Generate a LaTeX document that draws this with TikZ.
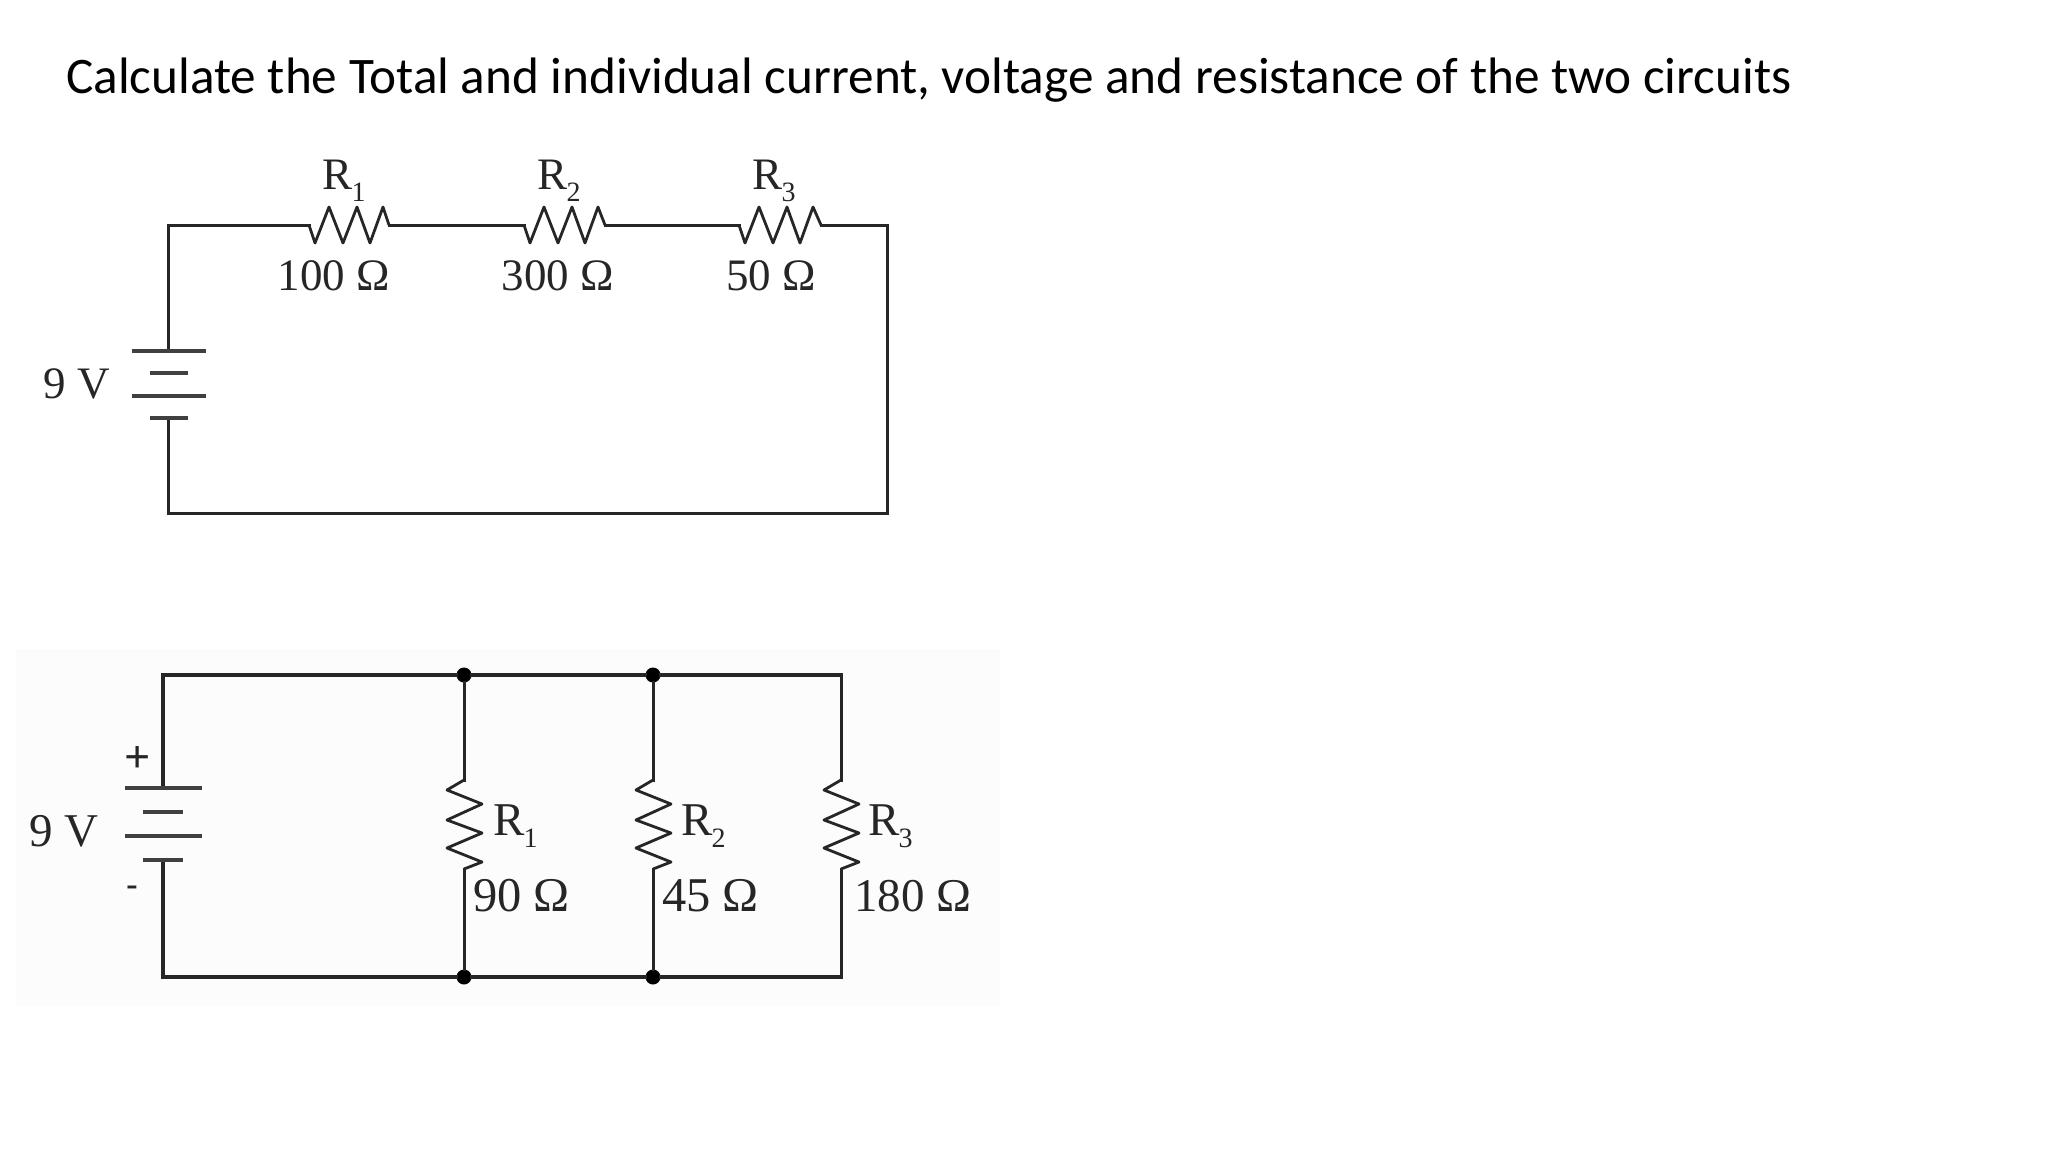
\documentclass[tikz,border=0pt]{standalone}
\usepackage{fontspec}
\setmainfont{Liberation Serif}
\newfontfamily\titlefont{Carlito}
\newcommand{\rsub}[1]{R\kern-1pt\raisebox{-12pt}{\fontsize{28}{28}\selectfont #1}}
\tikzset{
  wire/.style={line width=3pt,black!85,line join=miter,line cap=rect},
  thin wire/.style={line width=2.8pt,black!85,line join=round},
  heavy/.style={line width=4pt,black!85,line cap=rect},
  plate/.style={line width=3.8pt,black!75},
  lbl/.style={inner sep=0pt,anchor=base,font=\fontsize{45}{45}\selectfont,text=black!85},
  lbll/.style={lbl,font=\fontsize{47}{47}\selectfont},
  lblw/.style={lbll,anchor=base west},
  dot/.style={circle,fill=black,inner sep=0pt,minimum size=15pt},
}
\begin{document}
\begin{tikzpicture}[x=1pt,y=-1pt]
\useasboundingbox[fill=white] (0,0) rectangle (2048,1152);
\fill[black!1] (16,649) rectangle (1000,1006);

\node[inner sep=0pt,anchor=base west,font=\titlefont\fontsize{51.25}{51.25}\selectfont,text=black] (title) at (66,93.5)
  {Calculate the Total and individual current, voltage and resistance of the two circuits};

% --- series circuit
\coordinate (a1) at (168,225); \coordinate (a2) at (887,225);
\coordinate (a3) at (887,513); \coordinate (a4) at (168,513);
\coordinate (ap1) at (168,351); \coordinate (ap4) at (168,418);
\coordinate (s1a) at (309,225); \coordinate (s1b) at (389,225);
\coordinate (s2a) at (524,225); \coordinate (s2b) at (605,225);
\coordinate (s3a) at (739,225); \coordinate (s3b) at (821,225);

\draw[wire] (ap1) -- (a1) -- (s1a);
\draw[wire] (s1b) -- (s2a);
\draw[wire] (s2b) -- (s3a);
\draw[wire] (s3b) -- (a2) -- (a3) -- (a4) -- (ap4);
\foreach \n in {1,2,3}{
  \draw[thin wire] (s\n a) -- ++(6,18) -- ++(14,-36) -- ++(14,36) -- ++(14,-36) -- ++(13,36) -- ++(13,-36) -- (s\n b);
}
\draw[plate] (132,351) -- (206,351);
\draw[plate] (150,373) -- (188,373);
\draw[plate] (132,396) -- (206,396);
\draw[plate] (150,418) -- (188,418);

\node[lbl] (n1) at (344,189) {\rsub{1}};
\node[lbl] (n2) at (559,189) {\rsub{2}};
\node[lbl] (n3) at (774,189) {\rsub{3}};
\node[lbl] (v1) at (334,290) {100 Ω};
\node[lbl] (v2) at (558,290) {300 Ω};
\node[lbl] (v3) at (771,290) {50 Ω};
\node[lbl] (bat1) at (77,398) {9 V};

% --- parallel circuit
\coordinate (b1) at (163,675); \coordinate (b2) at (841,675);
\coordinate (b3) at (841,977); \coordinate (b4) at (163,977);
\coordinate (bp1) at (163,788); \coordinate (bp4) at (163,860);
\node[dot] (t1) at (464,675) {};
\node[dot] (t2) at (653,675) {};
\node[dot] (u1) at (464,977) {};
\node[dot] (u2) at (653,977) {};
\coordinate (p1a) at (464,780); \coordinate (p1b) at (464,869);
\coordinate (p2a) at (653,780); \coordinate (p2b) at (653,869);
\coordinate (p3a) at (841,780); \coordinate (p3b) at (841,869);

\draw[heavy] (bp1) -- (b1) -- (t1) -- (t2) -- (b2);
\draw[wire] (b2) -- (p3a);
\draw[heavy] (bp4) -- (b4) -- (u1) -- (u2) -- (b3);
\draw[wire] (p3b) -- (b3);
\draw[wire] (t1) -- (p1a); \draw[wire] (p1b) -- (u1);
\draw[wire] (t2) -- (p2a); \draw[wire] (p2b) -- (u2);
\foreach \n in {1,2,3}{
  \draw[thin wire] (p\n a) -- ++(-17,10) -- ++(35,14) -- ++(-35,16) -- ++(35,13) -- ++(-35,15) -- ++(35,14) -- (p\n b);
}
\draw[plate] (125,788) -- (202,788);
\draw[plate] (143,812) -- (183,812);
\draw[plate] (125,836) -- (202,836);
\draw[plate] (143,860) -- (183,860);

\node[lblw] (m1) at (493,835) {\rsub{1}};
\node[lblw] (m2) at (681,835) {\rsub{2}};
\node[lblw] (m3) at (868,835) {\rsub{3}};
\node[lblw,font=\fontsize{48.5}{48.5}\selectfont] (w1) at (473,911) {90 Ω};
\node[lblw,font=\fontsize{48.5}{48.5}\selectfont] (w2) at (662,911) {45 Ω};
\node[lblw] (w3) at (854,911) {180 Ω};
\node[lbll] (bat2) at (64,846) {9 V};
\node[lbl,font=\bfseries\fontsize{46}{46}\selectfont] (plus) at (138,772) {+};
\node[lbl,font=\bfseries\fontsize{34}{34}\selectfont] (minus) at (132,895) {-};
\end{tikzpicture}
\end{document}
